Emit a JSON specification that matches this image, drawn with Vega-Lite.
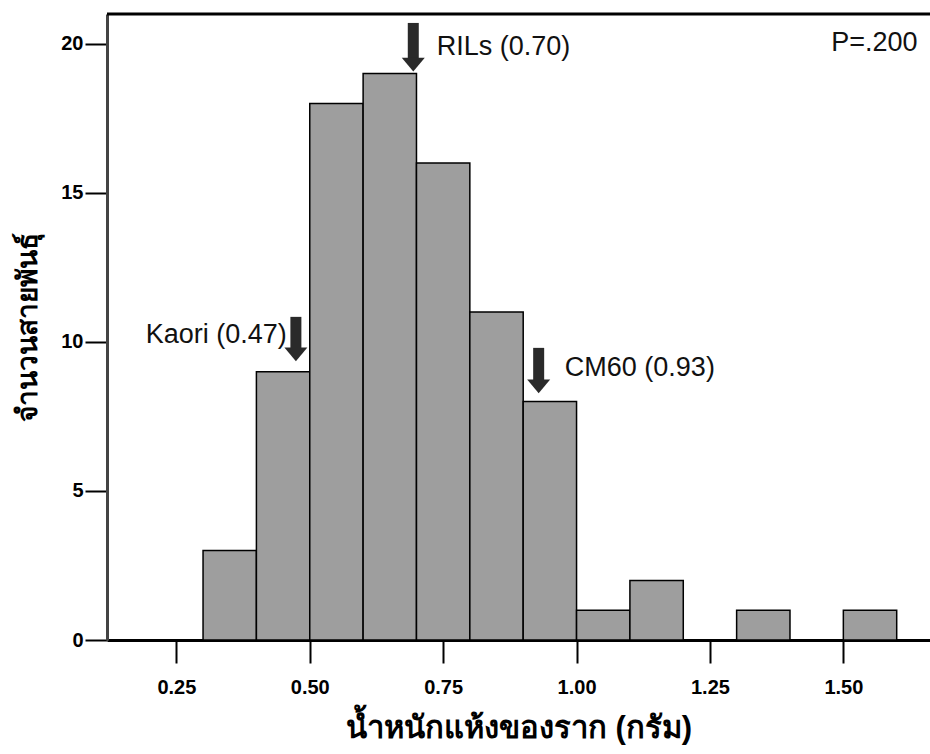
{
  "$schema": "https://vega.github.io/schema/vega-lite/v6.json",
  "width": 823,
  "height": 626,
  "autosize": {"type": "none"},
  "padding": {"left": 107, "top": 14, "right": 0, "bottom": 114},
  "background": "white",
  "config": {
    "view": {"stroke": null},
    "font": "Liberation Sans"
  },
  "datasets": {
    "bins": [
      {"bin_start": 0.3, "bin_end": 0.4, "count": 3},
      {"bin_start": 0.4, "bin_end": 0.5, "count": 9},
      {"bin_start": 0.5, "bin_end": 0.6, "count": 18},
      {"bin_start": 0.6, "bin_end": 0.7, "count": 19},
      {"bin_start": 0.7, "bin_end": 0.8, "count": 16},
      {"bin_start": 0.8, "bin_end": 0.9, "count": 11},
      {"bin_start": 0.9, "bin_end": 1.0, "count": 8},
      {"bin_start": 1.0, "bin_end": 1.1, "count": 1},
      {"bin_start": 1.1, "bin_end": 1.2, "count": 2},
      {"bin_start": 1.3, "bin_end": 1.4, "count": 1},
      {"bin_start": 1.5, "bin_end": 1.6, "count": 1}
    ],
    "arrows": [
      {"name": "RILs", "x": 0.694, "top": 20.7, "shaftEnd": 19.4, "head": 19.3},
      {"name": "Kaori", "x": 0.474, "top": 10.84, "shaftEnd": 9.7, "head": 9.58},
      {"name": "CM60", "x": 0.929, "top": 9.8, "shaftEnd": 8.6, "head": 8.51}
    ],
    "labels": [
      {"text": "RILs (0.70)", "x": 0.738, "y": 19.9, "align": "left"},
      {"text": "CM60 (0.93)", "x": 0.978, "y": 9.13, "align": "left"},
      {"text": "Kaori (0.47)", "x": 0.4568, "y": 10.22, "align": "right"},
      {"text": "P=.200", "x": 1.639, "y": 20.03, "align": "right"}
    ],
    "frame": [{"top": 21}]
  },
  "layer": [
    {
      "data": {"name": "bins"},
      "mark": {"type": "bar", "fill": "#9e9e9e", "stroke": "#000000", "strokeWidth": 1.5},
      "encoding": {
        "x": {
          "field": "bin_start",
          "type": "quantitative",
          "scale": {"domain": [0.12, 1.6624], "nice": false, "zero": false},
          "axis": {
            "values": [0.25, 0.5, 0.75, 1.0, 1.25, 1.5],
            "format": ".2f",
            "grid": false,
            "domainColor": "#000000",
            "domainWidth": 3,
            "tickColor": "#000000",
            "tickWidth": 2,
            "tickSize": 23,
            "labelFont": "Liberation Sans",
            "labelFontWeight": "bold",
            "labelFontSize": 20,
            "labelColor": "#000000",
            "labelPadding": 14,
            "labelFlush": false,
            "title": "น้ำหนักแห้งของราก (กรัม)",
            "titleFontSize": 31,
            "titleFontWeight": "bold",
            "titleColor": "#000000",
            "titlePadding": 16
          }
        },
        "x2": {"field": "bin_end"},
        "y": {
          "field": "count",
          "type": "quantitative",
          "scale": {"domain": [0, 21], "nice": false},
          "axis": {
            "values": [0, 5, 10, 15, 20],
            "grid": false,
            "domainColor": "#444444",
            "domainWidth": 3,
            "tickColor": "#000000",
            "tickWidth": 2,
            "tickSize": 22,
            "labelFont": "Liberation Sans",
            "labelFontWeight": "bold",
            "labelFontSize": 20,
            "labelColor": "#000000",
            "labelPadding": 2,
            "labelFlush": false,
            "title": "จำนวนสายพันธุ์",
            "titleFontSize": 28,
            "titleFontWeight": "bold",
            "titleColor": "#000000",
            "titlePadding": 18
          }
        },
        "y2": {"datum": 0}
      }
    },
    {
      "data": {"name": "frame"},
      "mark": {"type": "rule", "color": "#000000", "strokeWidth": 3},
      "encoding": {"y": {"field": "top", "type": "quantitative"}}
    },
    {
      "data": {"name": "arrows"},
      "mark": {"type": "rule", "color": "#2a2a2a", "strokeWidth": 11},
      "encoding": {
        "x": {"field": "x", "type": "quantitative"},
        "y": {"field": "top", "type": "quantitative"},
        "y2": {"field": "shaftEnd"}
      }
    },
    {
      "data": {"name": "arrows"},
      "mark": {"type": "point", "shape": "M-1,-0.6L1,-0.6L0,0.6Z", "filled": true, "color": "#2a2a2a", "opacity": 1, "size": 529},
      "encoding": {
        "x": {"field": "x", "type": "quantitative"},
        "y": {"field": "head", "type": "quantitative"}
      }
    },
    {
      "data": {"name": "labels"},
      "transform": [{"filter": "datum.align == 'left'"}],
      "mark": {"type": "text", "align": "left", "baseline": "middle", "fontSize": 27, "font": "Liberation Sans", "color": "#111111"},
      "encoding": {
        "x": {"field": "x", "type": "quantitative"},
        "y": {"field": "y", "type": "quantitative"},
        "text": {"field": "text"}
      }
    },
    {
      "data": {"name": "labels"},
      "transform": [{"filter": "datum.align == 'right'"}],
      "mark": {"type": "text", "align": "right", "baseline": "middle", "fontSize": 27, "font": "Liberation Sans", "color": "#111111"},
      "encoding": {
        "x": {"field": "x", "type": "quantitative"},
        "y": {"field": "y", "type": "quantitative"},
        "text": {"field": "text"}
      }
    }
  ]
}
